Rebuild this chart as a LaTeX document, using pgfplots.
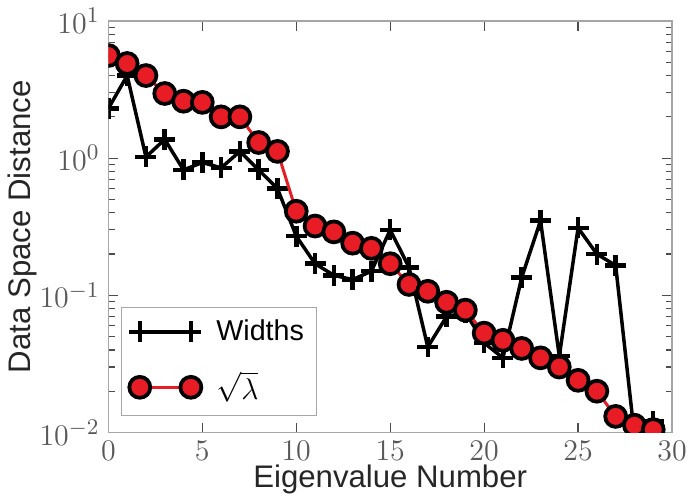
\documentclass[border=0pt]{standalone}
\usepackage{fontspec}
\setmainfont{Liberation Sans}
\usepackage{pgfplots}
\pgfplotsset{compat=1.18}
\definecolor{lamred}{RGB}{232,28,36}

\begin{document}
\begin{tikzpicture}
\begin{axis}[
  scale only axis,
  width=226pt, height=165pt,
  xmin=0, xmax=30,
  ymode=log, ymin=1e-2, ymax=1e1,
  xtick={0,5,...,30},
  ytick={1e-2,1e-1,1e0,1e1},
  tick align=inside,
  axis line style={gray!70, line width=0.7pt},
  tick style={gray!60!black, line width=0.5pt},
  major tick length=4pt, minor tick length=2.5pt,
  xlabel={Eigenvalue Number},
  ylabel={Data Space Distance},
  label style={font=\fontsize{12.5}{14}\selectfont, text=black!85},
  tick label style={font=\fontsize{13}{15}\selectfont, text=black!65},
  xlabel style={yshift=5pt},
  ylabel style={yshift=-6pt},
  clip marker paths=true,
  legend style={at={(0.023,0.04)}, anchor=south west, draw=gray!70,
    font=\fontsize{11.5}{13}\selectfont, row sep=7pt, column sep=4pt,
    inner xsep=3pt, inner ysep=3pt},
  legend cell align=left,
  legend image code/.code={
    \draw[mark repeat=2, mark phase=1, #1] plot coordinates {(0cm,0cm) (0.36cm,0cm) (0.72cm,0cm)};},
]
\addplot[black, line width=1.4pt, mark=+, mark size=4.2pt,
  mark options={line width=1.8pt}] coordinates {
  (0,2.3) (1,4.0) (2,1.02) (3,1.37) (4,0.82) (5,0.93) (6,0.85) (7,1.12)
  (8,0.82) (9,0.6) (10,0.27) (11,0.17) (12,0.14) (13,0.13) (14,0.15)
  (15,0.3) (16,0.16) (17,0.042) (18,0.07) (19,0.075) (20,0.045)
  (21,0.035) (22,0.135) (23,0.35) (24,0.036) (25,0.31) (26,0.2)
  (27,0.165) (28,0.0095) (29,0.012)};
\addlegendentry{Widths}
\addplot[lamred, line width=1.2pt, mark=*, mark size=4.2pt,
  mark options={fill=lamred, draw=black, line width=1.5pt}] coordinates {
  (0,5.6) (1,4.9) (2,4.0) (3,2.96) (4,2.6) (5,2.55) (6,2.0) (7,2.0)
  (8,1.3) (9,1.12) (10,0.41) (11,0.32) (12,0.29) (13,0.24) (14,0.22)
  (15,0.17) (16,0.12) (17,0.107) (18,0.089) (19,0.078) (20,0.053)
  (21,0.047) (22,0.041) (23,0.035) (24,0.030) (25,0.024) (26,0.020)
  (27,0.0131) (28,0.0113) (29,0.0105)};
\addlegendentry{$\sqrt{\lambda}$}
\end{axis}
\end{tikzpicture}
\end{document}
